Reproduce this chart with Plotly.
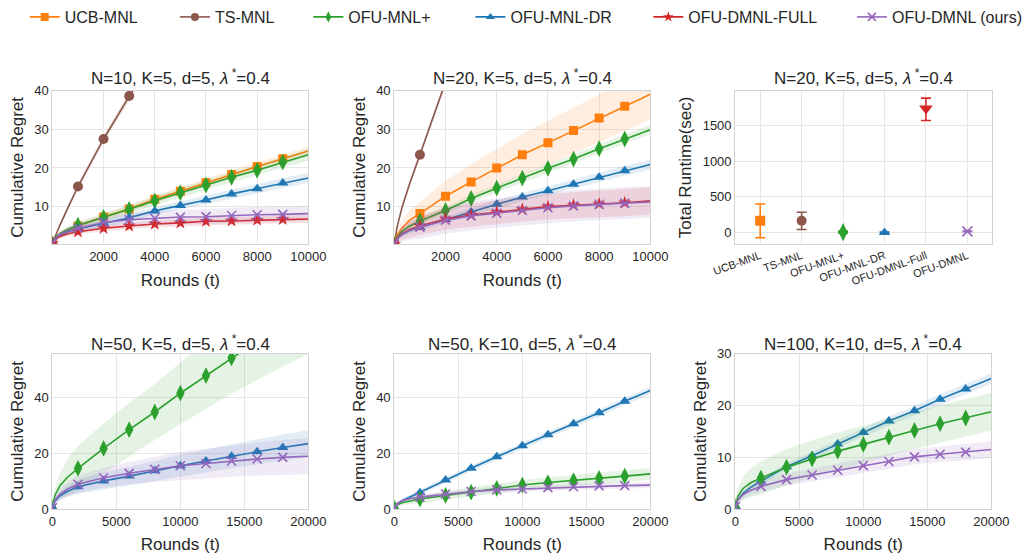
import plotly.graph_objects as go
from plotly.subplots import make_subplots

# ---------------- colours / styles ----------------
C_UCB, C_TS, C_PLUS, C_DR, C_FULL, C_OURS = '#ff7f0e', '#8c564b', '#2ca02c', '#1f77b4', '#d62728', '#9467bd'
TXT = '#262626'
FONT = 'Liberation Sans, Arial, sans-serif'

LEGEND_NAMES = ['UCB-MNL', 'TS-MNL', 'OFU-MNL+', 'OFU-MNL-DR', 'OFU-DMNL-FULL', 'OFU-DMNL (ours)']

# ---------------- data: top row (T up to 10000) ----------------
T_TOP = [0, 100, 300, 600, 1000, 2000, 3000, 4000, 5000, 6000, 7000, 8000, 9000, 10000]
MARK_TOP = [0, 1000, 2000, 3000, 4000, 5000, 6000, 7000, 8000, 9000]
T_TS_A = [0, 100, 300, 600, 1000, 2000, 3000, 4000]
T_TS_B = [0, 100, 300, 600, 1000, 2000, 3000]

# N=10, K=5
A_UCB = [0.5, 1.8, 3.0, 4.0, 5.0, 7.35, 9.4, 11.9, 14.0, 16.2, 18.3, 20.4, 22.4, 24.4]
A_UCB_SD = [0, 0.3, 0.5, 0.6, 0.7, 0.8, 0.9, 0.9, 1.0, 1.0, 1.0, 1.1, 1.1, 1.2]
A_TS = [0.5, 2.2, 5.3, 9.6, 15.2, 27.5, 38.6, 49.5]
A_TS_SD = [0, 0.3, 0.5, 0.7, 0.8, 1.0, 1.2, 1.4]
A_PLUS = [0.5, 1.8, 3.0, 4.1, 5.2, 7.2, 9.3, 11.5, 13.6, 15.6, 17.6, 19.4, 21.5, 23.4]
A_PLUS_SD = [0, 0.4, 0.6, 0.8, 0.9, 1.0, 1.1, 1.2, 1.2, 1.3, 1.3, 1.4, 1.4, 1.5]
A_DR = [0.5, 1.6, 2.6, 3.5, 4.2, 5.7, 7.1, 8.9, 10.3, 11.7, 13.3, 14.6, 16.1, 17.4]
A_DR_SD = [0, 0.4, 0.6, 0.7, 0.8, 0.9, 1.0, 1.0, 1.1, 1.1, 1.2, 1.2, 1.3, 1.3]
A_FULL = [0.5, 1.5, 2.3, 3.0, 3.5, 4.4, 5.0, 5.5, 5.8, 6.2, 6.3, 6.5, 6.7, 6.8]
A_FULL_SD = [0, 0.3, 0.5, 0.6, 0.7, 0.8, 0.9, 0.9, 1.0, 1.0, 1.0, 1.0, 1.0, 1.0]
A_OURS = [0.5, 1.7, 2.8, 3.7, 4.4, 5.9, 6.6, 7.0, 7.3, 7.4, 7.7, 7.9, 8.0, 8.2]
A_OURS_SD = [0, 0.5, 0.8, 1.0, 1.2, 1.5, 1.7, 1.8, 1.9, 1.9, 2.0, 2.0, 2.0, 2.0]

# N=20, K=5
B_UCB = [0.3, 2.5, 4.5, 6.5, 8.2, 12.7, 16.4, 20.0, 23.4, 26.5, 29.7, 32.9, 36.0, 39.1]
B_UCB_SD = [0, 1.2, 2.0, 2.6, 3.0, 4.0, 4.6, 5.0, 5.4, 5.7, 6.0, 6.2, 6.4, 6.5]
B_TS = [0.3, 4.5, 9.8, 16.0, 23.4, 42.3, 60.0]
B_TS_SD = [0, 0.4, 0.6, 0.8, 1.0, 1.3, 1.6]
B_PLUS = [0.3, 2.0, 3.6, 5.0, 6.3, 9.0, 12.1, 14.8, 17.4, 19.9, 22.3, 25.0, 27.5, 29.9]
B_PLUS_SD = [0, 0.4, 0.6, 0.7, 0.8, 0.9, 1.0, 1.0, 1.1, 1.1, 1.2, 1.2, 1.2, 1.2]
B_DR = [0.3, 1.6, 2.8, 3.8, 4.6, 6.7, 8.6, 10.6, 12.5, 14.1, 15.8, 17.6, 19.3, 20.9]
B_DR_SD = [0, 0.4, 0.6, 0.7, 0.8, 0.9, 1.0, 1.1, 1.1, 1.2, 1.2, 1.3, 1.3, 1.3]
B_FULL = [0.3, 1.8, 3.0, 4.1, 5.0, 6.8, 7.8, 8.6, 9.3, 10.0, 10.4, 10.7, 11.0, 11.5]
B_FULL_SD = [0, 1.0, 1.6, 2.0, 2.3, 2.8, 3.0, 3.1, 3.2, 3.3, 3.4, 3.5, 3.5, 3.6]
B_OURS = [0.3, 1.7, 2.9, 3.9, 4.7, 6.5, 7.6, 8.3, 9.0, 9.7, 10.2, 10.6, 10.9, 11.2]
B_OURS_SD = [0, 1.2, 2.0, 2.5, 3.0, 3.5, 3.7, 3.8, 3.9, 4.0, 4.0, 4.1, 4.1, 4.1]

# ---------------- data: bottom row (T up to 20000) ----------------
T_BOT = [0, 200, 600, 1200, 2000, 4000, 6000, 8000, 10000, 12000, 14000, 16000, 18000, 20000]
MARK_BOT = [0, 2000, 4000, 6000, 8000, 10000, 12000, 14000, 16000, 18000]

# N=50, K=5
D_PLUS = [0.5, 5.0, 8.5, 11.5, 14.6, 21.7, 28.4, 34.7, 41.4, 47.7, 54.0, 60.2, 66.4, 72.5]
D_PLUS_SD = [0, 2.5, 4.5, 6.5, 8.0, 9.0, 9.5, 10.0, 11.0, 11.8, 12.8, 14.0, 15.5, 17.0]
D_DR = [0.5, 2.8, 4.8, 6.4, 8.0, 10.1, 11.8, 13.7, 15.5, 17.2, 18.9, 20.5, 22.0, 23.4]
D_DR_SD = [0, 1.0, 1.5, 2.0, 2.5, 3.0, 3.3, 3.6, 3.9, 4.1, 4.3, 4.5, 4.7, 4.8]
D_OURS = [0.5, 3.2, 5.4, 7.2, 8.9, 11.2, 12.8, 14.2, 15.5, 16.3, 17.2, 17.9, 18.5, 18.9]
D_OURS_SD = [0, 1.2, 2.0, 2.5, 3.0, 3.5, 4.0, 4.5, 5.0, 5.3, 5.6, 5.9, 6.2, 6.4]

# N=50, K=10
E_DR = [0.5, 1.8, 3.0, 4.3, 5.9, 10.4, 14.6, 18.7, 22.6, 26.6, 30.5, 34.4, 38.5, 42.4]
E_DR_SD = [0, 0.5, 0.7, 0.8, 0.9, 1.0, 1.0, 1.1, 1.1, 1.2, 1.2, 1.3, 1.3, 1.4]
E_PLUS = [0.5, 1.5, 2.3, 2.9, 3.6, 4.9, 6.1, 7.4, 8.6, 9.5, 10.2, 11.0, 11.8, 12.6]
E_PLUS_SD = [0, 0.6, 0.9, 1.1, 1.3, 1.5, 1.6, 1.7, 1.8, 1.9, 2.0, 2.0, 2.1, 2.1]
E_OURS = [0.5, 2.0, 3.0, 3.7, 4.3, 5.4, 6.3, 6.9, 7.2, 7.7, 8.0, 8.3, 8.4, 8.6]
E_OURS_SD = [0, 0.4, 0.6, 0.7, 0.8, 0.9, 0.9, 1.0, 1.0, 1.0, 1.0, 1.0, 1.0, 1.0]

# N=100, K=10
F_DR = [0.5, 1.8, 3.0, 4.2, 5.4, 8.2, 10.3, 12.6, 14.8, 17.0, 19.0, 21.2, 23.2, 25.2]
F_DR_SD = [0, 0.4, 0.5, 0.6, 0.6, 0.7, 0.7, 0.8, 0.8, 0.9, 0.9, 1.0, 1.0, 1.0]
F_PLUS = [0.5, 2.5, 4.0, 5.1, 6.0, 8.1, 9.7, 11.2, 12.5, 13.9, 15.2, 16.5, 17.6, 18.8]
F_PLUS_SD = [0, 1.5, 2.3, 2.8, 3.2, 3.5, 3.6, 3.6, 3.6, 3.6, 3.6, 3.6, 3.6, 3.6]
F_OURS = [0.5, 1.8, 2.8, 3.6, 4.4, 5.7, 6.6, 7.5, 8.4, 9.2, 10.1, 10.6, 11.0, 11.5]
F_OURS_SD = [0, 0.5, 0.8, 1.0, 1.1, 1.2, 1.3, 1.3, 1.4, 1.4, 1.5, 1.5, 1.6, 1.6]

# ---------------- runtime panel ----------------
RT_NAMES = ['UCB-MNL', 'TS-MNL', 'OFU-MNL+', 'OFU-MNL-DR', 'OFU-DMNL-Full', 'OFU-DMNL']
RT_MEAN = [165, 165, 4, 0, 1745, 15]
RT_ERR_PLUS = [235, 120, 15, 5, 145, 5]
RT_ERR_MINUS = [240, 123, 15, 5, 170, 5]

TITLES = ['N=10, K=5, d=5, <i>λ</i><sup> *</sup>=0.4', 'N=20, K=5, d=5, <i>λ</i><sup> *</sup>=0.4',
          'N=20, K=5, d=5, <i>λ</i><sup> *</sup>=0.4', 'N=50, K=5, d=5, <i>λ</i><sup> *</sup>=0.4',
          'N=50, K=10, d=5, <i>λ</i><sup> *</sup>=0.4', 'N=100, K=10, d=5, <i>λ</i><sup> *</sup>=0.4']

STYLE = {
    'UCB': (C_UCB, 'square', 9),
    'TS': (C_TS, 'circle', 10),
    'PLUS': (C_PLUS, 'diamond-tall', 12),
    'DR': (C_DR, 'triangle-up', 10),
    'FULL': (C_FULL, 'star', 10),
    'OURS': (C_OURS, 'x-thin', 9),
}


def rgba(hexc, a):
    h = hexc.lstrip('#')
    return 'rgba(%d,%d,%d,%.2f)' % (int(h[0:2], 16), int(h[2:4], 16), int(h[4:6], 16), a)


fig = make_subplots(rows=2, cols=3)


def marker_dict(key, size=None):
    color, sym, ms = STYLE[key]
    if size is not None:
        ms = size
    if sym == 'x-thin':
        return dict(symbol=sym, size=ms, color=color, line=dict(color=color, width=1.6))
    return dict(symbol=sym, size=ms, color=color, line=dict(width=0))


def add_series(row, col, key, x, y, sd, marks):
    color = STYLE[key][0]
    up = [a + b for a, b in zip(y, sd)]
    lo = [a - b for a, b in zip(y, sd)]
    fig.add_trace(go.Scatter(x=list(x) + list(x)[::-1], y=up + lo[::-1], fill='toself',
                             fillcolor=rgba(color, 0.13), line=dict(width=0), mode='lines',
                             hoverinfo='skip', showlegend=False), row=row, col=col)
    fig.add_trace(go.Scatter(x=x, y=y, mode='lines', line=dict(color=color, width=1.6),
                             showlegend=False), row=row, col=col)
    mx = [t for t in x if t in marks]
    my = [v for t, v in zip(x, y) if t in marks]
    fig.add_trace(go.Scatter(x=mx, y=my, mode='markers', marker=marker_dict(key),
                             showlegend=False), row=row, col=col)


# top-left
add_series(1, 1, 'TS', T_TS_A, A_TS, A_TS_SD, MARK_TOP)
add_series(1, 1, 'UCB', T_TOP, A_UCB, A_UCB_SD, MARK_TOP)
add_series(1, 1, 'PLUS', T_TOP, A_PLUS, A_PLUS_SD, MARK_TOP)
add_series(1, 1, 'DR', T_TOP, A_DR, A_DR_SD, MARK_TOP)
add_series(1, 1, 'FULL', T_TOP, A_FULL, A_FULL_SD, MARK_TOP)
add_series(1, 1, 'OURS', T_TOP, A_OURS, A_OURS_SD, MARK_TOP)
# top-middle
add_series(1, 2, 'TS', T_TS_B, B_TS, B_TS_SD, MARK_TOP)
add_series(1, 2, 'UCB', T_TOP, B_UCB, B_UCB_SD, MARK_TOP)
add_series(1, 2, 'PLUS', T_TOP, B_PLUS, B_PLUS_SD, MARK_TOP)
add_series(1, 2, 'DR', T_TOP, B_DR, B_DR_SD, MARK_TOP)
add_series(1, 2, 'FULL', T_TOP, B_FULL, B_FULL_SD, MARK_TOP)
add_series(1, 2, 'OURS', T_TOP, B_OURS, B_OURS_SD, MARK_TOP)
# bottom-left
add_series(2, 1, 'PLUS', T_BOT, D_PLUS, D_PLUS_SD, MARK_BOT)
add_series(2, 1, 'DR', T_BOT, D_DR, D_DR_SD, MARK_BOT)
add_series(2, 1, 'OURS', T_BOT, D_OURS, D_OURS_SD, MARK_BOT)
# bottom-middle
add_series(2, 2, 'DR', T_BOT, E_DR, E_DR_SD, MARK_BOT)
add_series(2, 2, 'PLUS', T_BOT, E_PLUS, E_PLUS_SD, MARK_BOT)
add_series(2, 2, 'OURS', T_BOT, E_OURS, E_OURS_SD, MARK_BOT)
# bottom-right
add_series(2, 3, 'DR', T_BOT, F_DR, F_DR_SD, MARK_BOT)
add_series(2, 3, 'PLUS', T_BOT, F_PLUS, F_PLUS_SD, MARK_BOT)
add_series(2, 3, 'OURS', T_BOT, F_OURS, F_OURS_SD, MARK_BOT)

# runtime panel
RT_KEYS = ['UCB', 'TS', 'PLUS', 'DR', 'FULL', 'OURS']
RT_SYMS = ['square', 'circle', 'diamond-tall', 'triangle-up', 'triangle-down', 'x-thin']
RT_SIZES = [10, 10, 13, 10, 12, 10]
for i, k in enumerate(RT_KEYS):
    color = STYLE[k][0]
    md = dict(symbol=RT_SYMS[i], size=RT_SIZES[i], color=color,
              line=dict(color=color, width=1.6 if RT_SYMS[i] == 'x-thin' else 0))
    fig.add_trace(go.Scatter(x=[RT_NAMES[i]], y=[RT_MEAN[i]], mode='markers', marker=md,
                             error_y=dict(type='data', array=[RT_ERR_PLUS[i]], arrayminus=[RT_ERR_MINUS[i]],
                                          color=color, thickness=1.6, width=5),
                             showlegend=False), row=1, col=3)

# legend entries (one legend per entry so positions can follow the reference)
LEG_X = [30, 182, 317, 481, 661, 867]
for i, k in enumerate(RT_KEYS):
    color = STYLE[k][0]
    lname = 'legend' if i == 0 else 'legend%d' % (i + 1)
    fig.add_trace(go.Scatter(x=[None], y=[None], mode='lines+markers', name=LEGEND_NAMES[i],
                             line=dict(color=color, width=1.6), marker=marker_dict(k, 8),
                             legend=lname, showlegend=True), row=1, col=1)

W, H = 1028, 554
XD = [(53, 312), (399, 658), (744, 1004)]
YD = [(89, 243), (353, 509)]

axis_common = dict(showgrid=True, gridcolor='#e6e6e6', gridwidth=1, showline=True, linecolor='#d2d2d2',
                   linewidth=1.25, mirror=True, ticks='', zeroline=False, automargin=False,
                   tickfont=dict(family=FONT, size=13, color=TXT),
                   title_font=dict(family=FONT, size=17, color=TXT))

layout = dict(width=W, height=H, margin=dict(l=0, r=0, t=0, b=0), plot_bgcolor='white', paper_bgcolor='white',
              font=dict(family=FONT, color=TXT))

annotations = []
for r in range(2):
    for c in range(3):
        idx = r * 3 + c + 1
        xa = 'xaxis' if idx == 1 else 'xaxis%d' % idx
        ya = 'yaxis' if idx == 1 else 'yaxis%d' % idx
        x0, x1 = XD[c]
        y0, y1 = YD[r]
        if r == 1 and c == 2:
            x1 = 1003
        xd = dict(axis_common, domain=[x0 / W, x1 / W])
        yd = dict(axis_common, domain=[1 - y1 / H, 1 - y0 / H])
        if idx in (1, 2):
            xd.update(range=[0, 10000], tickvals=[2000, 4000, 6000, 8000, 10000], tickformat='d',
                      title=dict(text='Rounds (t)', standoff=11))
            yd.update(range=[0.3, 40], tickvals=[10, 20, 30, 40],
                      title=dict(text='Cumulative Regret', standoff=6))
        elif idx == 3:
            xd.update(range=[-0.6, 5.6], type='category', tickangle=-20,
                      tickfont=dict(family=FONT, size=11, color=TXT))
            yd.update(range=[-164, 1995], tickvals=[0, 500, 1000, 1500],
                      title=dict(text='Total Runtime(sec)', standoff=6))
        else:
            xd.update(range=[0, 20000], tickvals=[0, 5000, 10000, 15000, 20000], tickformat='d',
                      title=dict(text='Rounds (t)', standoff=11))
            if idx == 6:
                yd.update(range=[0, 30], tickvals=[0, 10, 20, 30])
            else:
                yd.update(range=[0, 55.5], tickvals=[0, 20, 40])
            yd.update(title=dict(text='Cumulative Regret', standoff=6))
        layout[xa] = xd
        layout[ya] = yd
        ty = 75 if r == 0 else 342
        annotations.append(dict(text=TITLES[idx - 1], x=(x0 + x1) / 2 / W, y=1 - ty / H, xref='paper', yref='paper',
                                showarrow=False, xanchor='center', yanchor='middle',
                                font=dict(family=FONT, size=17, color=TXT)))

for i in range(6):
    lname = 'legend' if i == 0 else 'legend%d' % (i + 1)
    layout[lname] = dict(x=(LEG_X[i] - 5) / W, y=1 + 2 / H, xanchor='left', yanchor='top', orientation='h',
                         bgcolor='rgba(0,0,0,0)', borderwidth=0,
                         font=dict(family=FONT, size=16, color=TXT))
layout['annotations'] = annotations
fig.update_layout(**layout)

fig.write_html('out.html')
